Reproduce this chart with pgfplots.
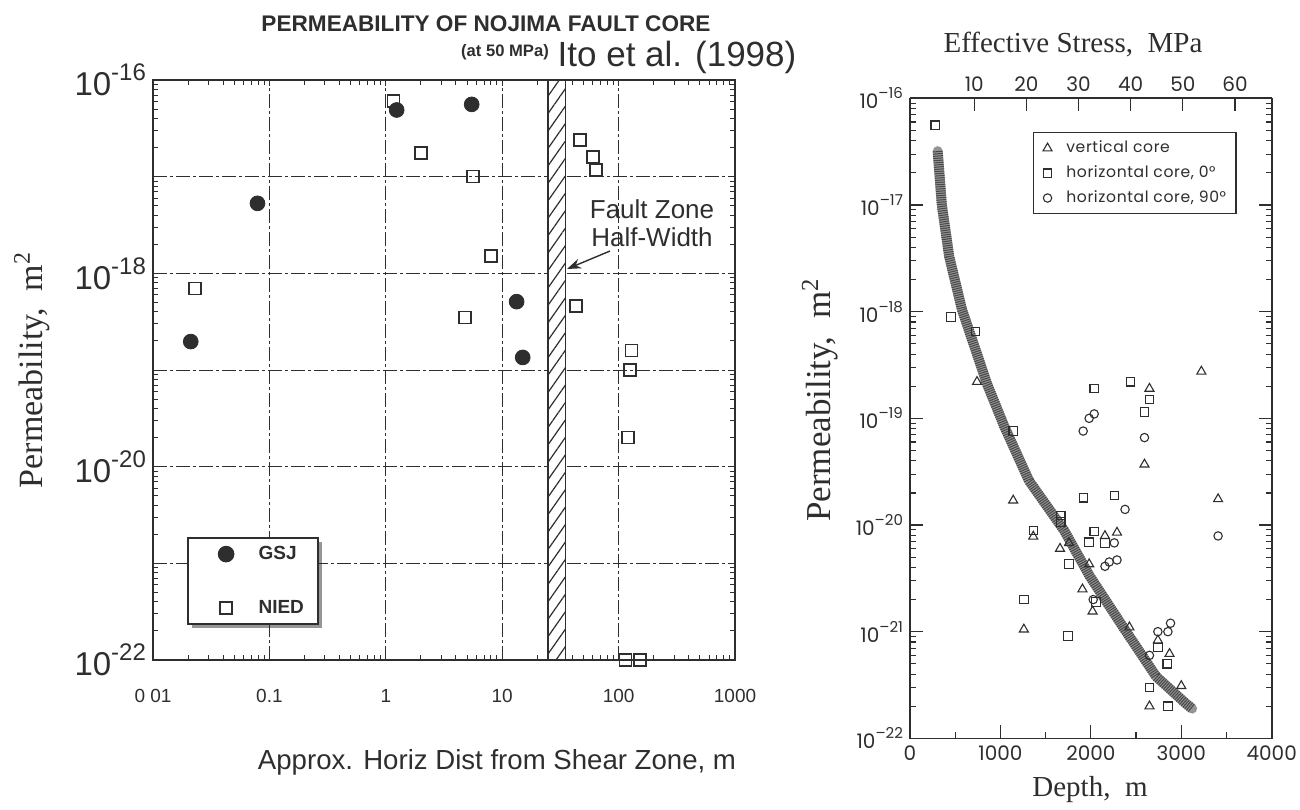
\documentclass[border=0pt]{standalone}
\usepackage{fontspec}
\setmainfont{Liberation Serif}
\newfontfamily\helv{Liberation Sans}
\newfontfamily\geo{Poppins}
\newfontfamily\geow[LetterSpace=4]{Poppins}
\usepackage{pgfplots}
\usepackage{pgfplotstable}
\pgfplotsset{compat=1.18}
\usetikzlibrary{patterns.meta,shadows,arrows.meta}
\definecolor{ink}{HTML}{2E2E2E}

\newcommand{\rsup}[1]{\raisebox{0.5em}{\fontsize{7.5}{8}\selectfont #1}}
\newcommand{\lsup}[1]{\raisebox{0.45em}{\fontsize{12}{13}\selectfont #1}}

% ---------- left chart data ----------
\pgfplotstableread{
x y
1.24 4.9e-17
5.47 5.6e-17
0.079 5.3e-18
13.3 5.1e-19
0.0211 1.97e-19
15.0 1.35e-19
}\gsj

\pgfplotstableread{
x y
1.16 6.1e-17
2.0 1.75e-17
5.6 1.0e-17
8.0 1.52e-18
0.023 7.0e-19
4.8 3.5e-19
46.8 2.4e-17
60 1.6e-17
64 1.17e-17
43 4.6e-19
129 1.6e-19
125 1.0e-19
121 2.0e-20
115 1e-22
153 1e-22
}\nied

% ---------- right chart data ----------
\pgfplotstableread{
d k
306 3.2e-17
352 1.0e-17
433 3.3e-18
574 1.05e-18
750 3.8e-19
852 2.1e-19
1040 8.5e-20
1316 2.6e-20
1704 8.9e-21
1989 3.3e-21
2352 1.12e-21
2722 3.8e-22
3056 2.1e-22
3120 1.9e-22
}\tabB

\pgfplotstableread{
d k
3222 2.75e-19
741 2.2e-19
2648 1.9e-19
2593 3.7e-20
1141 1.7e-20
3407 1.75e-20
1363 7.8e-21
2156 7.9e-21
2289 8.5e-21
1659 6.0e-21
1759 6.8e-21
1981 4.3e-21
1907 2.5e-21
2019 1.55e-21
1259 1.05e-21
2426 1.1e-21
2741 8.3e-22
2870 6.2e-22
3000 3.1e-22
2648 2.0e-22
}\tabV

\pgfplotstableread{
d k
278 5.6e-17
452 8.9e-19
722 6.5e-19
2437 2.2e-19
2037 1.9e-19
2648 1.5e-19
2593 1.15e-19
1141 7.6e-20
1919 1.8e-20
2259 1.9e-20
1667 1.23e-20
1667 1.07e-20
1363 8.9e-21
2037 8.7e-21
1981 6.9e-21
2156 6.8e-21
1759 4.3e-21
1259 2.0e-21
2056 1.9e-21
1748 9.1e-22
2741 7.1e-22
2844 5.0e-22
2648 3.0e-22
2852 2.0e-22
}\tabH

\pgfplotstableread{
d k
2037 1.1e-19
1981 1.0e-19
1915 7.6e-20
2593 6.6e-20
2378 1.4e-20
3407 7.9e-21
2259 6.8e-21
2156 4.1e-21
2203 4.5e-21
2289 4.7e-21
2026 2.0e-21
2741 1.0e-21
2852 1.0e-21
2881 1.2e-21
2648 6.0e-22
}\tabC

\pgfplotsset{
  yminorlog/.style={minor ytick={
    2e-22,3e-22,4e-22,5e-22,6e-22,7e-22,8e-22,9e-22,
    2e-21,3e-21,4e-21,5e-21,6e-21,7e-21,8e-21,9e-21,
    2e-20,3e-20,4e-20,5e-20,6e-20,7e-20,8e-20,9e-20,
    2e-19,3e-19,4e-19,5e-19,6e-19,7e-19,8e-19,9e-19,
    2e-18,3e-18,4e-18,5e-18,6e-18,7e-18,8e-18,9e-18,
    2e-17,3e-17,4e-17,5e-17,6e-17,7e-17,8e-17,9e-17}},
  leftimg/.style={legend image code/.code={\path[draw=none,fill=none] (0cm,0cm) (1.0cm,0cm); \draw[##1] plot coordinates {(0.5cm,0cm)};}},
  rightimg/.style={legend image code/.code={\path[draw=none,fill=none] (0cm,0cm) (0.4cm,0cm); \draw[##1] plot coordinates {(0.14cm,0cm)};}},
}

\begin{document}
\begin{tikzpicture}[font=\helv]
\path[use as bounding box] (0,0) rectangle (650pt,-404.5pt);

% ================= LEFT CHART =================
\begin{axis}[
  at={(76.5pt,-330pt)}, anchor=south west,
  scale only axis, width=291pt, height=290pt,
  xmode=log, ymode=log,
  xmin=0.01, xmax=1000, ymin=1e-22, ymax=1e-16,
  xtick={0.01,0.1,1,10,100,1000},
  xticklabels={0 01,0.1,1,10,100,1000},
  minor xtick={0.02,0.03,0.04,0.05,0.06,0.07,0.08,0.09,
    0.2,0.3,0.4,0.5,0.6,0.7,0.8,0.9,2,3,4,5,6,7,8,9,
    20,30,40,50,60,70,80,90,200,300,400,500,600,700,800,900},
  yminorlog,
  ytick={1e-22,1e-21,1e-20,1e-19,1e-18,1e-17,1e-16},
  yticklabels={10\lsup{-22},,10\lsup{-20},,10\lsup{-18},,10\lsup{-16}},
  xmajorgrids, ymajorgrids,
  major grid style={ink, line width=0.45pt, dash pattern=on 7pt off 1.5pt on 1.5pt off 1.5pt},
  axis line style={ink, line width=0.8pt},
  every tick/.style={ink, line width=0.5pt},
  major tick length=3pt, minor tick length=2.5pt,
  tick align=inside,
  /pgf/number format/assume math mode=true,
  xticklabel style={font=\helv\fontsize{9.5}{11}\selectfont, text=ink, yshift=-11pt},
  yticklabel style={font=\helv\fontsize{16.5}{18}\selectfont, text=ink},
  clip=false,
  legend cell align=left,
  legend style={at={(0.058,0.212)}, anchor=north west, draw=ink, line width=0.9pt,
    fill=white, drop shadow={shadow xshift=2pt, shadow yshift=-2pt, fill=ink},
    font=\helv\bfseries\fontsize{9.5}{11}\selectfont, text=ink,
    row sep=15pt, inner xsep=5pt, inner ysep=2pt},
]
\fill[white] (axis cs:24.6,1e-22) rectangle (axis cs:35.1,1e-16);
\fill[pattern={Lines[angle=55,distance=5pt,line width=0.6pt]}, pattern color=ink]
  (axis cs:24.6,1e-22) rectangle (axis cs:35.1,1e-16);
\draw[ink, line width=0.8pt] (axis cs:24.6,1e-22) rectangle (axis cs:35.1,1e-16);
\addplot[only marks, leftimg, mark=*, mark size=3.7pt, mark options={fill=ink, draw=ink}] table[x=x,y=y]{\gsj};
\addlegendentry{GSJ}
\addplot[only marks, leftimg, mark=square, mark size=3pt, mark options={draw=ink, line width=0.8pt, fill=white}] table[x=x,y=y]{\nied};
\addlegendentry{NIED}
\end{axis}

% ================= RIGHT CHART =================
\begin{axis}[
  at={(455pt,-369.15pt)}, anchor=south west,
  scale only axis, width=180.85pt, height=320pt,
  ymode=log,
  xmin=0, xmax=4000, ymin=1e-22, ymax=1e-16,
  xtick={0,1000,2000,3000,4000},
  xticklabels={0,1000,2000,3000,4000},
  minor xtick={500,1500,2500,3500},
  xtick pos=left,
  yminorlog,
  ytick={1e-22,1e-21,1e-20,1e-19,1e-18,1e-17,1e-16},
  yticklabels={10\rsup{–22},10\rsup{–21},10\rsup{–20},10\rsup{–19},10\rsup{–18},10\rsup{–17},10\rsup{–16}},
  axis line style={ink, line width=0.8pt},
  every tick/.style={ink, line width=0.6pt},
  tick align=inside,
  major tick length=6.5pt, minor tick length=3pt,
  /pgf/number format/assume math mode=true,
  xticklabel style={font=\geo\fontsize{10}{12}\selectfont, text=ink},
  yticklabel style={font=\geo\fontsize{10}{12}\selectfont, text=ink},
  legend cell align=left,
  legend style={at={(0.34,0.947)}, anchor=north west, draw=ink, line width=0.6pt,
    font=\geow\fontsize{7.8}{9}\selectfont, text=ink, row sep=1pt,
    inner xsep=3pt, inner ysep=2pt},
]
\addplot[black!42, line width=5pt, line join=round, line cap=round, forget plot] table[x=d,y=k]{\tabB};
\addplot[black!72, line width=5pt, line join=round, dash pattern=on 0.5pt off 0.6pt, forget plot] table[x=d,y=k]{\tabB};
\addplot[only marks, rightimg, mark=triangle, mark size=2.6pt, mark options={draw=ink, line width=0.55pt}] table[x=d,y=k]{\tabV};
\addlegendentry{vertical core}
\addplot[only marks, rightimg, mark=square, mark size=2.1pt, mark options={draw=ink, line width=0.55pt}] table[x=d,y=k]{\tabH};
\addlegendentry{horizontal core, 0°}
\addplot[only marks, rightimg, mark=o, mark size=2.1pt, mark options={draw=ink, line width=0.55pt}] table[x=d,y=k]{\tabC};
\addlegendentry{horizontal core, 90°}
\end{axis}

% top stress axis
\begin{axis}[
  at={(455pt,-369.15pt)}, anchor=south west,
  scale only axis, width=180.85pt, height=320pt,
  xmin=-2.33, xmax=67.04, ymin=0, ymax=1,
  axis x line*=top, hide y axis,
  xtick={10,20,30,40,50,60},
  xtick align=inside,
  major tick length=6.5pt,
  axis line style={ink, line width=0.8pt},
  every tick/.style={ink, line width=0.6pt},
  /pgf/number format/assume math mode=true,
  xticklabel style={font=\geo\fontsize{10}{12}\selectfont, text=ink},
]
\addplot[draw=none] coordinates {(0,0.5)};
\end{axis}

% ================= TEXT =================
\begin{scope}[x=0.5pt,y=-0.5pt]
\node[font=\helv\bfseries\fontsize{11.3}{13}\selectfont, text=ink] at (486,24) {PERMEABILITY OF NOJIMA FAULT CORE};
\node[font=\helv\bfseries\fontsize{8.3}{10}\selectfont, text=ink] at (505,52) {(at 50 MPa)};
\node[font=\helv\fontsize{17.5}{19}\selectfont, text=ink] at (677,57) {Ito et al. (1998)};
\node[rotate=90, font=\fontsize{17}{20}\selectfont, text=ink] at (32,370) {Permeability,\ \ m\textsuperscript{2}};
\node[font=\helv\fontsize{13.8}{16}\selectfont, text=ink] at (497,762) {Approx. Horiz Dist from Shear Zone, m};
\node[align=center, font=\helv\fontsize{13}{14}\selectfont, text=ink] at (652,223) {Fault Zone\\Half-Width};
\draw[-{Stealth[length=7pt,width=5pt]}, ink, line width=0.7pt] (610,251) -- (567,269);
\node[font=\fontsize{14.5}{17}\selectfont, text=ink] at (1073,45) {Effective Stress,\ \ MPa};
\node[rotate=90, font=\fontsize{17.5}{20}\selectfont, text=ink] at (820,400) {Permeability,\ \ m\textsuperscript{2}};
\node[font=\fontsize{14.5}{17}\selectfont, text=ink] at (1090,790) {Depth,\ \ m};
\end{scope}
\end{tikzpicture}
\end{document}
